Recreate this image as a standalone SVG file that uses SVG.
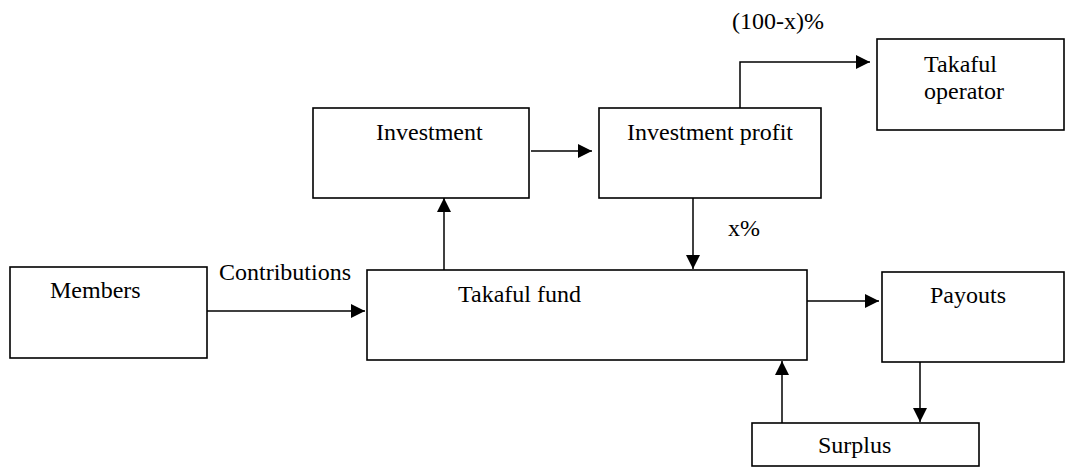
<svg xmlns="http://www.w3.org/2000/svg" width="1068" height="468" viewBox="0 0 1068 468">
<style>
.box{fill:#fff;stroke:#000;stroke-width:1.6}
.edge{fill:none;stroke:#000;stroke-width:1.5}
</style>
<defs>
<marker id="ah" viewBox="0 0 10 10" refX="10" refY="5" markerWidth="15" markerHeight="14" markerUnits="userSpaceOnUse" orient="auto">
<path d="M0,0 L10,5 L0,10 z" fill="#000"/>
</marker>
</defs>
<rect width="1068" height="468" fill="#fff"/>
<g font-family="Liberation Serif, Times New Roman, DejaVu Serif, serif" font-size="24" fill="#000">
<g id="members"><rect class="box" x="10" y="267" width="197" height="91"/><text x="50" y="298">Members</text></g>
<g id="takaful-fund"><rect class="box" x="367" y="270" width="440" height="90"/><text x="458" y="302">Takaful fund</text></g>
<g id="investment"><rect class="box" x="313" y="108" width="216" height="90"/><text x="376" y="140">Investment</text></g>
<g id="investment-profit"><rect class="box" x="599" y="108" width="222" height="90"/><text x="627" y="140">Investment profit</text></g>
<g id="takaful-operator"><rect class="box" x="877" y="39" width="187" height="91"/><text x="924" y="72">Takaful</text><text x="924" y="99">operator</text></g>
<g id="payouts"><rect class="box" x="882" y="272" width="182" height="90"/><text x="930" y="303">Payouts</text></g>
<g id="surplus"><rect class="box" x="752" y="423" width="227" height="43"/><text x="818" y="453">Surplus</text></g>
<g id="connectors">
<line class="edge" x1="207" y1="311" x2="365" y2="311" marker-end="url(#ah)"/>
<line class="edge" x1="444" y1="270" x2="444" y2="198" marker-end="url(#ah)"/>
<line class="edge" x1="531" y1="151" x2="592" y2="151" marker-end="url(#ah)"/>
<line class="edge" x1="693" y1="198" x2="693" y2="269" marker-end="url(#ah)"/>
<polyline class="edge" points="740,108 740,62 870,62" marker-end="url(#ah)"/>
<line class="edge" x1="807" y1="301" x2="879" y2="301" marker-end="url(#ah)"/>
<line class="edge" x1="920" y1="362" x2="920" y2="422" marker-end="url(#ah)"/>
<line class="edge" x1="782" y1="423" x2="782" y2="361" marker-end="url(#ah)"/>
<text x="219" y="280">Contributions</text>
<text x="728" y="236">x%</text>
<text x="732" y="29">(100-x)%</text>
</g>
</g>
</svg>
